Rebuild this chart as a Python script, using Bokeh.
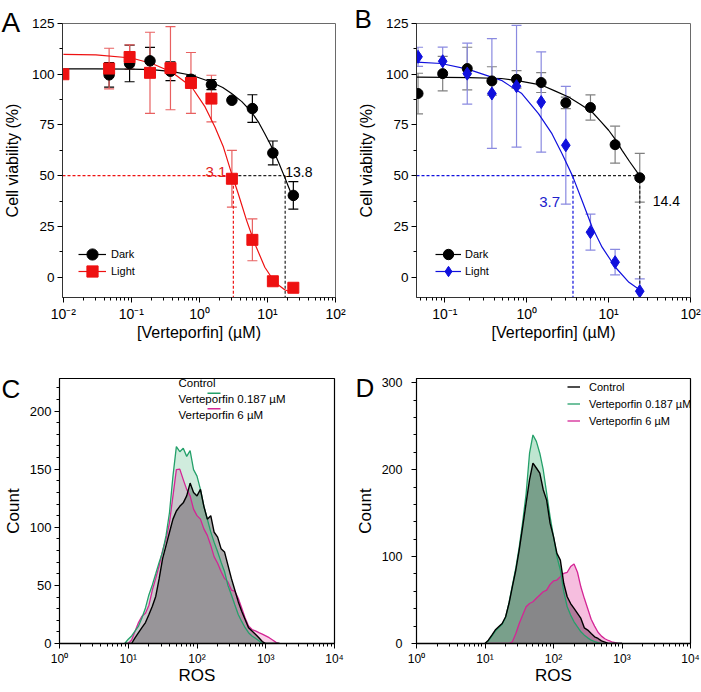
from bokeh.plotting import figure
from bokeh.layouts import row, column
from bokeh.models import (Range1d, FixedTicker, Whisker, TeeHead, ColumnDataSource,
                          Legend, LegendItem, Label, Arrow)
from bokeh.embed import file_html
from bokeh.resources import INLINE

FONT = "Liberation Sans"

# ---------------- Panel A data ----------------
conc_A_light = [0.01, 0.047, 0.094, 0.1875, 0.375, 0.75, 1.5, 3, 6, 12, 24]
via_A_light = [100, 102.8, 108.5, 100.7, 103, 95.7, 88, 48.5, 18.4, -2, -5.2]
err_A_light = [0, 10, 6, 20, 20.5, 15, 11.5, 14, 10.3, 0, 0]
conc_A_dark = [0.047, 0.094, 0.1875, 0.375, 0.75, 1.5, 3, 6, 12, 24]
via_A_dark = [99.7, 105.3, 106.6, 101.5, 97.5, 94.9, 87.2, 83.1, 61.2, 40.3]
err_A_dark = [6, 9, 6.6, 4.6, 2, 2.5, 0, 6.8, 5.9, 6.8]
fitA_dark_x = [0.01, 0.03, 0.1, 0.2, 0.4, 0.77, 1.48, 2.2, 2.97, 4.2, 5.83, 7.5, 9.14, 11, 12.8, 15, 17.9, 20, 24]
fitA_dark_y = [102.6, 102.6, 102.5, 102.3, 101.3, 99.5, 96.2, 93.5, 90.5, 86.5, 81.4, 76, 70.7, 65.5, 60.9, 55.5, 49.3, 45.2, 38.5]
fitA_light_x = [0.01, 0.03, 0.1, 0.2, 0.39, 0.77, 1.21, 1.69, 2.25, 2.97, 3.72, 4.93, 6.52, 9.14, 12.8, 17.9, 22.4]
fitA_light_y = [109.8, 109.5, 108, 105.3, 101.1, 93.7, 83.9, 74, 64.1, 51, 41.1, 28, 16.5, 4.9, -2.5, -6.2, -7.4]
ic50A_light_line, ic50A_dark_line = 3.15, 18.2
ic50A_light_text, ic50A_dark_text = "3.1", "13.8"

# ---------------- Panel B data ----------------
conc_B = [0.047, 0.094, 0.1875, 0.375, 0.75, 1.5, 3, 6, 12, 24]
via_B_dark = [90.5, 100.3, 102.8, 96.7, 97.5, 95.9, 85.9, 83.6, 65.3, 49]
err_B_dark = [10, 8.5, 10.5, 7, 4.3, 4.9, 2.8, 6.2, 9.1, 12]
via_B_light = [108.6, 106.4, 100.3, 90.5, 94.1, 86.3, 65, 22.2, 7.4, -6.9]
err_B_light = [4.7, 7, 15, 27, 30, 24.7, 29, 8.9, 6.3, 6.1]
fitB_dark_x = [0.045, 0.1, 0.2, 0.49, 0.8, 1.53, 2.2, 3.24, 4.5, 6.28, 8, 10, 12, 14.6, 18, 24.6]
fitB_dark_y = [98.6, 98.5, 98.3, 97.9, 96.7, 94.6, 91.8, 88.8, 85.2, 81.4, 76.8, 72.4, 68, 62.5, 57, 49.3]
fitB_light_x = [0.045, 0.09, 0.19, 0.49, 0.87, 1.39, 2.03, 2.69, 3.63, 4.73, 6.28, 8.32, 12.1, 17.7, 24.6]
fitB_light_y = [106, 105.3, 102.5, 97, 90.5, 80.6, 70.7, 60.9, 49.8, 37.8, 24.7, 14.8, 4.9, -2.5, -6.6]
ic50B_light_line, ic50B_dark_line = 3.67, 24
ic50B_light_text, ic50B_dark_text = "3.7", "14.4"

# ---------------- Panel C data (histograms) ----------------
ros_C = [8.9, 10.0, 11.2, 12.6, 14.1, 15.8, 17.8, 20.0, 22.4, 25.1, 28.2, 31.6, 35.5, 39.8, 44.7,
         50.1, 56.2, 63.1, 70.8, 79.4, 89.1, 100.0, 112.2, 125.9, 141.3, 158.5, 177.8, 199.5, 223.9,
         251.2, 281.8, 316.2, 354.8, 398.1, 446.7, 501.2, 562.3, 631.0, 707.9, 794.3, 891.3, 1000.0,
         1122.0, 1258.9, 1412.5, 1584.9]
C_control = [0, 0, 0, 5, 9.3, 13.6, 18, 25, 32, 40.5, 56, 73, 84.4, 95.7, 107, 114, 118, 121, 127, 138,
             130, 127, 132.6, 118, 107, 110, 95.7, 91.5, 81.6, 78.8, 67.4, 56, 46, 36, 27.8, 20.7, 13.6,
             10.8, 8, 5, 1.7, 0, 0, 0, 0, 0]
C_low = [0, 3.7, 6.5, 10.8, 15, 22, 30.6, 42, 50.4, 60, 70, 78.8, 93, 112.7, 144, 169.4, 165, 168, 161,
         166, 149.6, 144, 132.6, 118, 107, 96, 87, 79, 70, 62, 50, 42, 33.4, 25, 19, 13.6, 9.3, 6.5,
         4.5, 2.3, 0, 0, 0, 0, 0, 0]
C_high = [0, 0, 3, 10.8, 18, 23.5, 26, 33, 46, 56, 67, 80, 90, 104, 127, 149.6, 150, 141, 132.6, 127,
          115.6, 110, 107, 98.6, 93, 84.4, 74.5, 69, 62, 56, 53, 46, 45, 39, 30.6, 22, 15, 12, 10.8,
          9.3, 8, 6.5, 5, 3, 1, 0]

# ---------------- Panel D data (histograms) ----------------
ros_D = [10.0, 11.2, 12.6, 14.1, 15.8, 17.8, 20.0, 22.4, 25.1, 28.2, 31.6, 35.5, 39.8, 44.7, 50.1,
         56.2, 63.1, 70.8, 79.4, 89.1, 100.0, 112.2, 125.9, 141.3, 158.5, 177.8, 199.5, 223.9, 251.2,
         281.8, 316.2, 354.8, 398.1, 446.7, 501.2, 562.3, 631.0, 707.9, 794.3, 891.3, 1000.0]
D_control = [0, 3.8, 9.6, 15.4, 19.2, 23, 30.8, 46, 65.4, 84.6, 107.7, 134.6, 161.5, 188.5, 207.7,
             202, 196, 177, 165, 138.5, 123, 103.8, 96, 69, 53.8, 46, 40.4, 34.6, 28.8, 18, 15.4,
             11.5, 7.7, 5.8, 3, 1.5, 0, 0, 0, 0, 0]
D_low = [0, 3, 8.5, 14, 18, 22, 30, 47, 67, 87, 111, 140, 172, 219, 240, 232.7, 219, 200, 173, 146,
         123, 100, 84.6, 59.6, 42.3, 32.7, 25, 19.2, 13.5, 9.6, 6.5, 3.8, 2.3, 1, 0, 0, 0, 0, 0, 0, 0]
D_high = [0, 0, 0, 0, 0, 0, 0, 0, 2, 11.5, 23, 32.7, 42.3, 46, 48, 52, 55.8, 59.6, 61.5, 68,
          72, 73, 77, 80.8, 82, 88.5, 91.5, 82, 65, 52, 40, 28, 20, 13, 8.5, 5.5, 3.5, 2, 1, 0, 0]

hist_names = ["Control", "Verteporfin 0.187 \u00b5M", "Verteporfin 6 \u00b5M"]

SUP = {0.01: "10\u207b\u00b2", 0.1: "10\u207b\u00b9", 1.0: "10\u2070", 10.0: "10\u00b9",
       100.0: "10\u00b2", 1000.0: "10\u00b3", 10000.0: "10\u2074"}
minor_log = [m * 10.0 ** e for e in range(-3, 5) for m in range(2, 10)]


def make_fig(w, h, xr, yr, ml, mr, mt, mb):
    p = figure(width=w, height=h, x_axis_type="log", x_range=Range1d(*xr), y_range=Range1d(*yr),
               output_backend="svg", toolbar_location=None,
               min_border_left=ml, min_border_right=mr, min_border_top=mt, min_border_bottom=mb)
    p.xgrid.visible = False
    p.ygrid.visible = False
    p.background_fill_color = "white"
    p.border_fill_color = "white"
    for ax in (p.xaxis[0], p.yaxis[0]):
        ax.major_label_text_font = FONT
        ax.axis_label_text_font = FONT
        ax.axis_label_text_font_style = "normal"
        ax.major_label_text_color = "black"
        ax.axis_label_text_color = "black"
        ax.major_tick_in = 0
        ax.major_tick_out = 5
        ax.minor_tick_in = 0
        ax.minor_tick_out = 3
    return p


def letter(p, txt, offset, standoff, size="26px"):
    t = p.title
    t.text = txt
    t.align = "left"
    t.offset = offset
    t.standoff = standoff
    t.vertical_align = "bottom"
    t.text_font = FONT
    t.text_font_size = size
    t.text_font_style = "normal"
    t.text_color = "black"


def legend_item(p, label, rends, x, y, gw, standoff):
    leg = Legend(items=[LegendItem(label=label, renderers=list(rends))],
                 location=(x, y), orientation="vertical", glyph_width=gw, glyph_height=28,
                 spacing=0, padding=0, margin=0, label_standoff=standoff,
                 label_text_font=FONT, label_text_font_size="11px", label_text_color="black",
                 background_fill_alpha=0, border_line_alpha=0)
    p.add_layout(leg)


def viability_panel(w, ml, mr, xr, xticks, dark_x, dark_y, dark_e, light_x, light_y, light_e,
                    fdx, fdy, flx, fly, light_col, light_err_col, dark_err_col, light_marker,
                    light_size, dark_size, ic_light, ic_dark):
    p = make_fig(w, 344, xr, (-10, 125), ml, mr, 23, 47)
    p.outline_line_color = "#6a6a6a"
    p.xaxis.axis_line_color = "#333333"
    p.yaxis.axis_line_color = "#333333"
    p.xaxis.ticker = FixedTicker(ticks=xticks, minor_ticks=minor_log)
    p.xaxis.major_label_overrides = {t: SUP[t] for t in xticks}
    p.yaxis.ticker = FixedTicker(ticks=[0, 25, 50, 75, 100, 125], minor_ticks=[12.5, 37.5, 62.5, 87.5, 112.5])
    p.xaxis.major_label_text_font_size = "14px"
    p.yaxis.major_label_text_font_size = "13.5px"
    p.xaxis.axis_label = "[Verteporfin] (\u00b5M)"
    p.yaxis.axis_label = "Cell viability (%)"
    p.xaxis.axis_label_text_font_size = "16px"
    p.yaxis.axis_label_text_font_size = "16px"
    p.xaxis.major_label_standoff = 3
    p.xaxis.axis_label_standoff = -1
    p.yaxis.major_label_standoff = 3
    p.yaxis.axis_label_standoff = 8

    x0 = xr[0]
    p.line([x0, ic_light], [50, 50], line_color=light_col, line_dash="3 2", line_width=1.2)
    p.line([ic_light, ic_light], [50, -10], line_color=light_col, line_dash="3 2", line_width=1.2)
    p.line([ic_light, ic_dark], [50, 50], line_color="#222222", line_dash="3 2", line_width=1.2)
    p.line([ic_dark, ic_dark], [50, -10], line_color="#222222", line_dash="3 2", line_width=1.2)

    for xs, ys, es, col in ((dark_x, dark_y, dark_e, dark_err_col), (light_x, light_y, light_e, light_err_col)):
        keep = [i for i, e in enumerate(es) if e > 0]
        src = ColumnDataSource(dict(x=[xs[i] for i in keep],
                                    up=[ys[i] + es[i] for i in keep],
                                    lo=[ys[i] - es[i] for i in keep]))
        p.add_layout(Whisker(source=src, base="x", upper="up", lower="lo", dimension="height",
                             line_color=col, line_width=1.2,
                             upper_head=TeeHead(size=10, line_color=col, line_width=1.2),
                             lower_head=TeeHead(size=10, line_color=col, line_width=1.2)))

    dl = p.line(fdx, fdy, line_color="black", line_width=1.2)
    ll = p.line(flx, fly, line_color=light_col, line_width=1.2)
    ds = p.scatter(dark_x, dark_y, marker="circle", size=dark_size, fill_color="black", line_color="black")
    ls = p.scatter(light_x, light_y, marker=light_marker, size=light_size,
                   fill_color=light_col, line_color=light_col)
    return p, (dl, ds), (ll, ls)


# ---------------- Panel A ----------------
pA, dA, lA = viability_panel(350, 61, 15, (0.0097, 100), [0.01, 0.1, 1.0, 10.0, 100.0],
                             conc_A_dark, via_A_dark, err_A_dark, conc_A_light, via_A_light, err_A_light,
                             fitA_dark_x, fitA_dark_y, fitA_light_x, fitA_light_y,
                             "#ee1111", "#e86060", "black", "square", 11, 10.5,
                             ic50A_light_line, ic50A_dark_line)
pA.add_layout(Label(x=ic50A_light_line, y=50, text=ic50A_light_text, x_offset=-7, y_offset=4,
                    text_align="right", text_baseline="alphabetic", text_font=FONT,
                    text_font_size="15px", text_color="#e02020"))
pA.add_layout(Label(x=ic50A_dark_line, y=50, text=ic50A_dark_text, x_offset=0, y_offset=4,
                    text_align="left", text_baseline="alphabetic", text_font=FONT,
                    text_font_size="14px", text_color="black"))
legend_item(pA, "Dark", dA, 16, 29, 28, 5)
legend_item(pA, "Light", lA, 16, 12, 28, 5)
letter(pA, "A", -61, -29, "28px")

# ---------------- Panel B ----------------
pB, dB, lB = viability_panel(351, 66, 11, (0.045, 100), [0.1, 1.0, 10.0, 100.0],
                             conc_B, via_B_dark, err_B_dark, conc_B, via_B_light, err_B_light,
                             fitB_dark_x, fitB_dark_y, fitB_light_x, fitB_light_y,
                             "#1010dd", "#8a8ae0", "#808080", "diamond", 13, 10,
                             ic50B_light_line, ic50B_dark_line)
pB.add_layout(Label(x=ic50B_light_line, y=37, text=ic50B_light_text, x_offset=-13,
                    text_align="right", text_baseline="middle", text_font=FONT,
                    text_font_size="15px", text_color="#2020cc"))
pB.add_layout(Label(x=ic50B_dark_line, y=37.5, text=ic50B_dark_text, x_offset=13,
                    text_align="left", text_baseline="middle", text_font=FONT,
                    text_font_size="14px", text_color="black"))
legend_item(pB, "Dark", dB, 19, 29, 26, 4)
legend_item(pB, "Light", lB, 19, 12, 26, 4)
letter(pB, "B", -62, -21)


# ---------------- Histogram panels ----------------
def hist_panel(w, ml, mr, mt, mb, ymax, yticks, yminor, ros, ctrl, low, high, fills, ytick_fs):
    p = make_fig(w, 348, (1, 10000), (0, ymax), ml, mr, mt, mb)
    p.outline_line_color = "black"
    p.outline_line_width = 1.2
    p.xaxis.axis_line_color = "black"
    p.xaxis.axis_line_width = 1.6
    p.yaxis.axis_line_color = "black"
    p.xaxis.ticker = FixedTicker(ticks=[1.0, 10.0, 100.0, 1000.0, 10000.0], minor_ticks=minor_log)
    p.xaxis.major_label_overrides = {t: SUP[t] for t in [1.0, 10.0, 100.0, 1000.0, 10000.0]}
    p.yaxis.ticker = FixedTicker(ticks=yticks, minor_ticks=yminor)
    p.xaxis.major_label_text_font_size = "12px"
    p.yaxis.major_label_text_font_size = ytick_fs
    p.xaxis.axis_label = "ROS"
    p.yaxis.axis_label = "Count"
    p.xaxis.axis_label_text_font_size = "17px"
    p.yaxis.axis_label_text_font_size = "17px"
    p.xaxis.major_label_standoff = 3
    p.xaxis.axis_label_standoff = -3
    p.yaxis.major_label_standoff = 3
    p.yaxis.axis_label_standoff = 4
    (cc, ca), (hc, ha), (lc, la) = fills
    p.varea(x=ros, y1=0, y2=ctrl, fill_color=cc, fill_alpha=ca)
    p.varea(x=ros, y1=0, y2=high, fill_color=hc, fill_alpha=ha)
    p.varea(x=ros, y1=0, y2=low, fill_color=lc, fill_alpha=la)
    r_high = p.line(ros, high, line_color="#d42595", line_width=1.3)
    r_low = p.line(ros, low, line_color="#24a06a", line_width=1.3)
    r_ctrl = p.line(ros, ctrl, line_color="black", line_width=1.4)
    return p, (r_ctrl, r_low, r_high)


pC, rC = hist_panel(350, 59, 16, 34, 46, 228, [0, 50, 100, 150, 200], list(range(10, 230, 10)),
                    ros_C, C_control, C_low, C_high,
                    (("#3c3c3c", 0.42), ("#e12896", 0.22), ("#28aa64", 0.22)), "13px")
letter(pC, "\nC", -58, -50)
c_text_y = [261, 244.3, 228.7]
c_line = [(156, 168, 266, "black"), (148, 161, 250.3, "#24a06a"), (148, 161, 234.7, "#d42595")]
for name, ty in zip(hist_names, c_text_y):
    pC.add_layout(Label(x=119, y=ty, x_units="screen", y_units="screen", text=name,
                        text_font=FONT, text_font_size="11.5px", text_color="black",
                        text_baseline="middle"))
for xa, xb, yy, col in c_line:
    pC.add_layout(Arrow(x_start=xa, y_start=yy, x_end=xb, y_end=yy, start_units="screen",
                        end_units="screen", end=None, line_color=col, line_width=1.5))

pD, rD = hist_panel(351, 66, 11, 34, 49, 305, [0, 100, 200, 300], list(range(20, 305, 20)),
                    ros_D, D_control, D_low, D_high,
                    (("#3c3c3c", 0.5), ("#e12896", 0.3), ("#28aa64", 0.3)), "12.5px")
pD.yaxis.major_label_standoff = 9
legD = Legend(items=[LegendItem(label=n, renderers=[r]) for n, r in zip(hist_names, rD)],
              location=(151, 214), orientation="vertical", glyph_width=13, glyph_height=17,
              spacing=0, padding=0, margin=0, label_standoff=9,
              label_text_font=FONT, label_text_font_size="11px", label_text_color="black",
              background_fill_alpha=0, border_line_alpha=0)
pD.add_layout(legD)
letter(pD, "\nD", -61, -49)

layout = column(row(pA, pB), row(pC, pD))
open("out.html", "w").write(file_html(layout, INLINE))
